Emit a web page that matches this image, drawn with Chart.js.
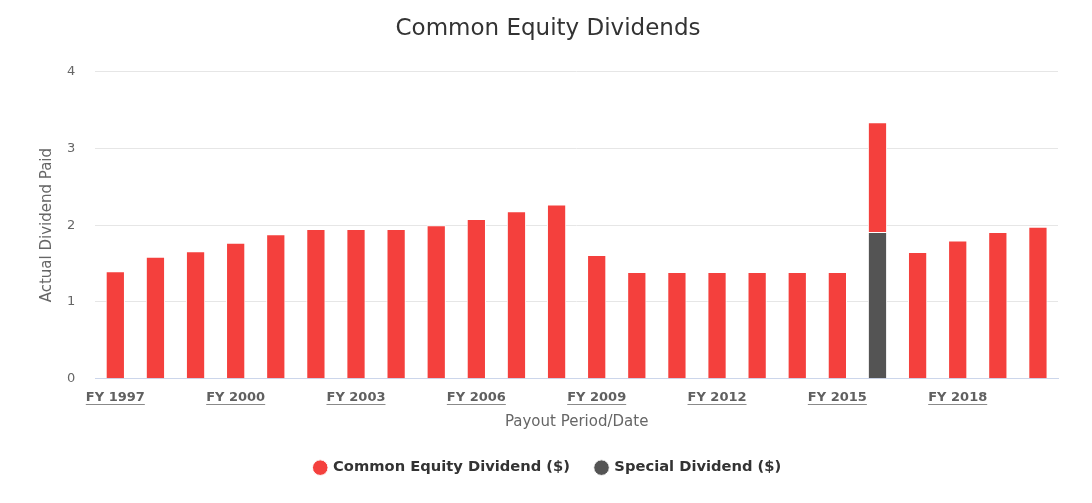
<!DOCTYPE html>
<html>
<head>
<meta charset="utf-8">
<script src="https://cdn.jsdelivr.net/npm/chart.js@4.4.1/dist/chart.umd.min.js"></script>
<style>
  html, body { margin: 0; padding: 0; background: #fff; }
  #wrap { width: 1092px; height: 503px; }
</style>
</head>
<body>
<div id="wrap"><canvas id="divChart" width="1092" height="503"></canvas></div>
<script>
const years = ['FY 1997', 'FY 1998', 'FY 1999', 'FY 2000', 'FY 2001', 'FY 2002', 'FY 2003', 'FY 2004',
  'FY 2005', 'FY 2006', 'FY 2007', 'FY 2008', 'FY 2009', 'FY 2010', 'FY 2011', 'FY 2012',
  'FY 2013', 'FY 2014', 'FY 2015', 'FY 2016', 'FY 2017', 'FY 2018', 'FY 2019', 'FY 2020'];
const commonDiv = [1.40, 1.59, 1.66, 1.77, 1.88, 1.95, 1.95, 1.95, 2.00, 2.08, 2.18, 2.27,
  1.61, 1.39, 1.39, 1.39, 1.39, 1.39, 1.39, 1.43, 1.65, 1.80, 1.91, 1.98];
const specialDiv = [null, null, null, null, null, null, null, null, null, null, null, null,
  null, null, null, null, null, null, null, 1.91, null, null, null, null];
const yTicks = [0, 1, 2, 3, 4];

const fontFam = '"DejaVu Sans", Verdana, sans-serif';
const xPad = 11;

// draws the underline under the x labels (they look like links)
const underlineLabels = {
  id: 'underlineLabels',
  afterDraw(chart) {
    const sc = chart.scales.x;
    const ctx = chart.ctx;
    ctx.save();
    ctx.font = `bold 13px ${fontFam}`;
    ctx.strokeStyle = '#8a8a8a';
    ctx.lineWidth = 1;
    sc.ticks.forEach((t, i) => {
      if (i % 3 !== 0) return;
      const x = sc.getPixelForTick(i);
      const w = ctx.measureText(years[i]).width;
      const y = Math.round(sc.top + xPad + 14) + 0.5;
      ctx.beginPath();
      ctx.moveTo(x - w / 2, y);
      ctx.lineTo(x + w / 2, y);
      ctx.stroke();
    });
    ctx.restore();
  }
};

new Chart(document.getElementById('divChart'), {
  type: 'bar',
  data: {
    labels: years,
    datasets: [
      { label: 'Special Dividend ($)', data: specialDiv, backgroundColor: '#545454', borderColor: '#ffffff', borderWidth: 1, barPercentage: 0.48, categoryPercentage: 1 },
      { label: 'Common Equity Dividend ($)', data: commonDiv, backgroundColor: '#f4403d', borderColor: '#ffffff', borderWidth: 1, barPercentage: 0.48, categoryPercentage: 1 },
    ],
  },
  options: {
    responsive: false,
    animation: false,
    layout: { padding: { left: 38, right: 34, top: 0, bottom: 18 } },
    plugins: {
      title: { display: true, text: 'Common Equity Dividends', color: '#333333', font: { family: fontFam, size: 23, weight: 'normal' }, padding: { top: 15, bottom: 29 } },
      legend: {
        position: 'bottom', reverse: true,
        labels: { usePointStyle: true, pointStyle: 'circle', boxWidth: 11, boxHeight: 11, padding: 26, color: '#333333', font: { family: fontFam, size: 14.7, weight: 'bold' } },
      },
      tooltip: { enabled: false },
    },
    scales: {
      x: {
        stacked: true,
        grid: { display: false, drawTicks: false },
        border: { color: '#ccd6eb' },
        ticks: {
          autoSkip: false, maxRotation: 0, padding: xPad, color: '#606060',
          font: { family: fontFam, size: 13, weight: 'bold' },
          callback: (v, i) => (i % 3 === 0 ? years[i] : ''),
        },
        title: { display: true, text: 'Payout Period/Date', color: '#666666', font: { family: fontFam, size: 15 }, padding: { top: -3, bottom: 3 } },
      },
      y: {
        stacked: true, min: 0, max: 4,
        afterBuildTicks: (ax) => { ax.ticks = yTicks.map((v) => ({ value: v })); },
        grid: { color: '#e6e6e6', drawTicks: false },
        border: { display: false },
        ticks: { padding: 20, color: '#666666', font: { family: fontFam, size: 13 } },
        title: { display: true, text: 'Actual Dividend Paid', color: '#666666', font: { family: fontFam, size: 15 }, padding: { top: 0, bottom: -9 } },
      },
    },
  },
  plugins: [underlineLabels],
});
</script>
</body>
</html>
